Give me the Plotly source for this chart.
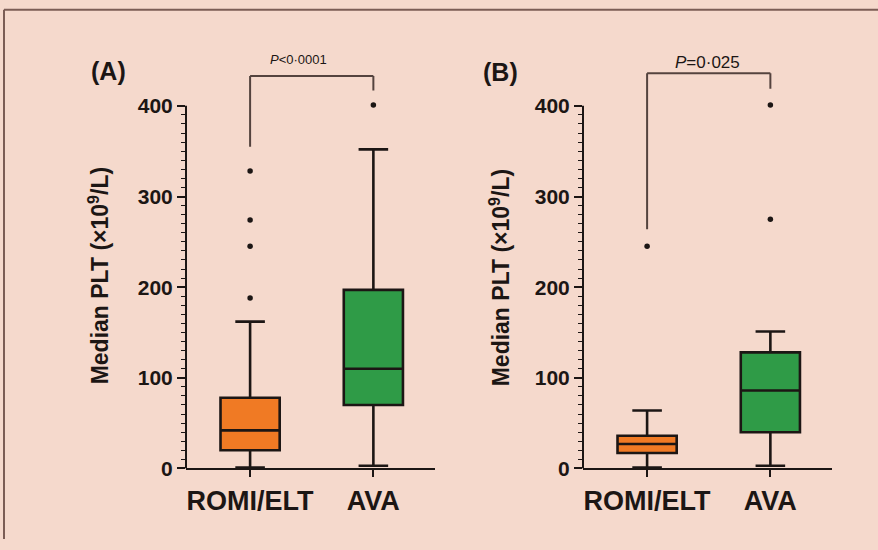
import plotly.graph_objects as go

W, H = 878, 550

# ---------------- data ----------------
categories = ["ROMI/ELT", "AVA"]

# Panel A
a_low = [1, 3]
a_q1 = [20, 70]
a_med = [42, 110]
a_q3 = [78, 197]
a_up = [162, 352]
a_out_romi = [188, 245, 274, 328]
a_out_ava = [401]

# Panel B
b_low = [1, 3]
b_q1 = [17, 40]
b_med = [27, 86]
b_q3 = [36, 128]
b_up = [64, 151]
b_out_romi = [245]
b_out_ava = [275, 401]

y_ticks = [0, 100, 200, 300, 400]
y_minor = [v for v in range(10, 400, 10) if v % 100]

p_text_a = "<i>P</i>&lt;0·0001"
p_text_b = "<i>P</i>=0·025"

# bracket levels (value units)
bracket_a = dict(top=433, left=355, right=417)
bracket_b = dict(top=436, left=264, right=419)

# ---------------- style ----------------
box_colors = ["#F07A24", "#2F9B47"]
ink = "#1c1614"
bg = "#F5D9CC"
FONT = "Liberation Sans"


def px(x):
    return x / W


def py(y):
    return 1 - y / H


fig = go.Figure()

panels = [
    ("x", "y", a_low, a_q1, a_med, a_q3, a_up, a_out_romi, a_out_ava),
    ("x2", "y2", b_low, b_q1, b_med, b_q3, b_up, b_out_romi, b_out_ava),
]

for xa, ya, lo, q1, md, q3, up, out_r, out_a in panels:
    for i, c in enumerate(categories):
        fig.add_trace(go.Box(
            x=[c], q1=[q1[i]], median=[md[i]], q3=[q3[i]],
            lowerfence=[lo[i]], upperfence=[up[i]],
            fillcolor=box_colors[i],
            line=dict(color=ink, width=2.6),
            width=0.48, whiskerwidth=0.5,
            boxpoints=False, hoverinfo="skip",
            xaxis=xa, yaxis=ya, showlegend=False,
        ))
    fig.add_trace(go.Scatter(
        x=[categories[0]] * len(out_r) + [categories[1]] * len(out_a),
        y=out_r + out_a,
        mode="markers",
        marker=dict(size=5.5, color=ink),
        cliponaxis=False, showlegend=False,
        xaxis=xa, yaxis=ya,
    ))

x_common = dict(
    type="category", categoryorder="array", categoryarray=categories,
    range=[-0.52, 1.5], showline=True, linecolor=ink, linewidth=2,
    ticks="outside", ticklen=7, tickwidth=2, tickcolor=ink,
    tickfont=dict(family=FONT, size=27, color=ink, weight="bold"),
    showgrid=False, zeroline=False, fixedrange=True,
)
y_common = dict(
    range=[0, 445], showline=False,
    tickmode="array", tickvals=y_ticks,
    ticks="outside", ticklen=8, tickwidth=2, tickcolor=ink,
    tickfont=dict(family=FONT, size=21, color=ink, weight="bold"),
    minor=dict(tickmode="array", tickvals=y_minor, ticks="outside",
               ticklen=4, tickwidth=1.2, tickcolor=ink),
    showgrid=False, zeroline=False, fixedrange=True,
)

y_dom = [py(478), py(66.4)]
fig.update_layout(
    xaxis=dict(domain=[px(186), px(435)], anchor="y", **x_common),
    yaxis=dict(domain=y_dom, anchor="x", **y_common),
    xaxis2=dict(domain=[px(583), px(832)], anchor="y2", **x_common),
    yaxis2=dict(domain=y_dom, anchor="x2", **y_common),
)

shapes = []
# outer frame (left and top edges only visible)
frame = dict(color="#7b5d55", width=2)
shapes.append(dict(type="line", xref="paper", yref="paper",
                   x0=px(4), x1=px(4), y0=0, y1=py(10), line=frame))
shapes.append(dict(type="line", xref="paper", yref="paper",
                   x0=px(4), x1=1, y0=py(10), y1=py(10), line=frame))

for xa, ya, br in [("x", "y", bracket_a), ("x2", "y2", bracket_b)]:
    # y axis line from 0 to 400
    shapes.append(dict(type="line", xref=f"{xa} domain", yref=ya,
                       x0=0, x1=0, y0=0, y1=y_ticks[-1],
                       line=dict(color=ink, width=2)))
    lc = dict(color="#54433e", width=2)
    shapes.append(dict(type="line", xref=xa, yref=ya, x0=categories[0], x1=categories[0],
                       y0=br["left"], y1=br["top"], line=lc))
    shapes.append(dict(type="line", xref=xa, yref=ya, x0=categories[0], x1=categories[1],
                       y0=br["top"], y1=br["top"], line=lc))
    shapes.append(dict(type="line", xref=xa, yref=ya, x0=categories[1], x1=categories[1],
                       y0=br["right"], y1=br["top"], line=lc))

fig.update_layout(shapes=shapes)

y_title = "Median PLT (×10<sup>9</sup>/L)"
ann = []
for cx, cy in [(99, 282), (500, 284)]:
    ann.append(dict(xref="paper", yref="paper", x=px(cx), y=py(cy),
                    text=y_title, textangle=-90, showarrow=False,
                    xanchor="center", yanchor="middle",
                    font=dict(family=FONT, size=23, color=ink, weight="bold")))
ann.append(dict(xref="paper", yref="paper", x=px(108), y=py(72), text="(A)",
                showarrow=False, xanchor="center", yanchor="middle",
                font=dict(family=FONT, size=25, color=ink, weight="bold")))
ann.append(dict(xref="paper", yref="paper", x=px(500), y=py(73), text="(B)",
                showarrow=False, xanchor="center", yanchor="middle",
                font=dict(family=FONT, size=25, color=ink, weight="bold")))
ann.append(dict(xref="paper", yref="paper", x=px(298), y=py(61), text=p_text_a,
                showarrow=False, xanchor="center", yanchor="middle",
                font=dict(family=FONT, size=13, color=ink)))
ann.append(dict(xref="paper", yref="paper", x=px(707), y=py(64), text=p_text_b,
                showarrow=False, xanchor="center", yanchor="middle",
                font=dict(family=FONT, size=17, color=ink)))

fig.update_layout(
    annotations=ann,
    width=W, height=H,
    margin=dict(l=0, r=0, t=0, b=0),
    paper_bgcolor=bg, plot_bgcolor=bg,
    showlegend=False,
    boxmode="overlay",
)

fig.write_html(
    "out.html",
    config={"displayModeBar": False},
    post_script=(
        "document.body.style.margin='0';"
        "document.body.style.overflow='hidden';"
        f"document.body.style.background='{bg}';"
    ),
)
